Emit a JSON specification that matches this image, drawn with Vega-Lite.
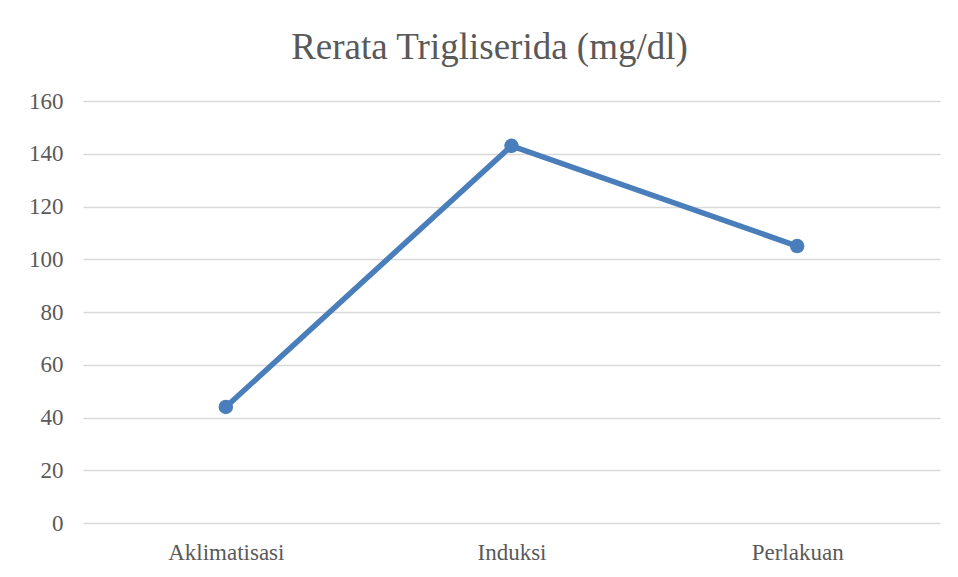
{
  "$schema": "https://vega.github.io/schema/vega-lite/v6.json",
  "width": 857,
  "height": 422,
  "autosize": {"type": "none"},
  "padding": {"left": 83, "top": 101, "right": 18, "bottom": 54},
  "background": "white",
  "title": {
    "text": "Rerata Trigliserida (mg/dl)",
    "font": "Liberation Serif",
    "fontSize": 37,
    "fontWeight": "normal",
    "color": "#595959",
    "anchor": "middle",
    "dx": -22,
    "offset": 23
  },
  "data": {
    "values": [
      {"tahap": "Aklimatisasi", "nilai": 44},
      {"tahap": "Induksi", "nilai": 143},
      {"tahap": "Perlakuan", "nilai": 105}
    ]
  },
  "config": {
    "view": {"stroke": null},
    "axis": {
      "labelFont": "Liberation Serif",
      "labelFontSize": 23,
      "labelColor": "#595959",
      "domain": false,
      "ticks": false,
      "title": null
    }
  },
  "encoding": {
    "x": {
      "field": "tahap",
      "type": "nominal",
      "sort": null,
      "scale": {"paddingInner": 0, "paddingOuter": 0},
      "axis": {"labelAngle": 0, "labelPadding": 18, "grid": false}
    },
    "y": {
      "field": "nilai",
      "type": "quantitative",
      "scale": {"domain": [0, 160], "nice": false},
      "axis": {
        "values": [0, 20, 40, 60, 80, 100, 120, 140, 160],
        "grid": true,
        "gridColor": "#d9d9d9",
        "gridWidth": 1.5,
        "labelPadding": 20
      }
    }
  },
  "layer": [
    {
      "mark": {"type": "line", "color": "#4a7ebb", "strokeWidth": 5.5}
    },
    {
      "mark": {"type": "point", "filled": true, "opacity": 1, "color": "#4a7ebb", "size": 210}
    }
  ]
}
